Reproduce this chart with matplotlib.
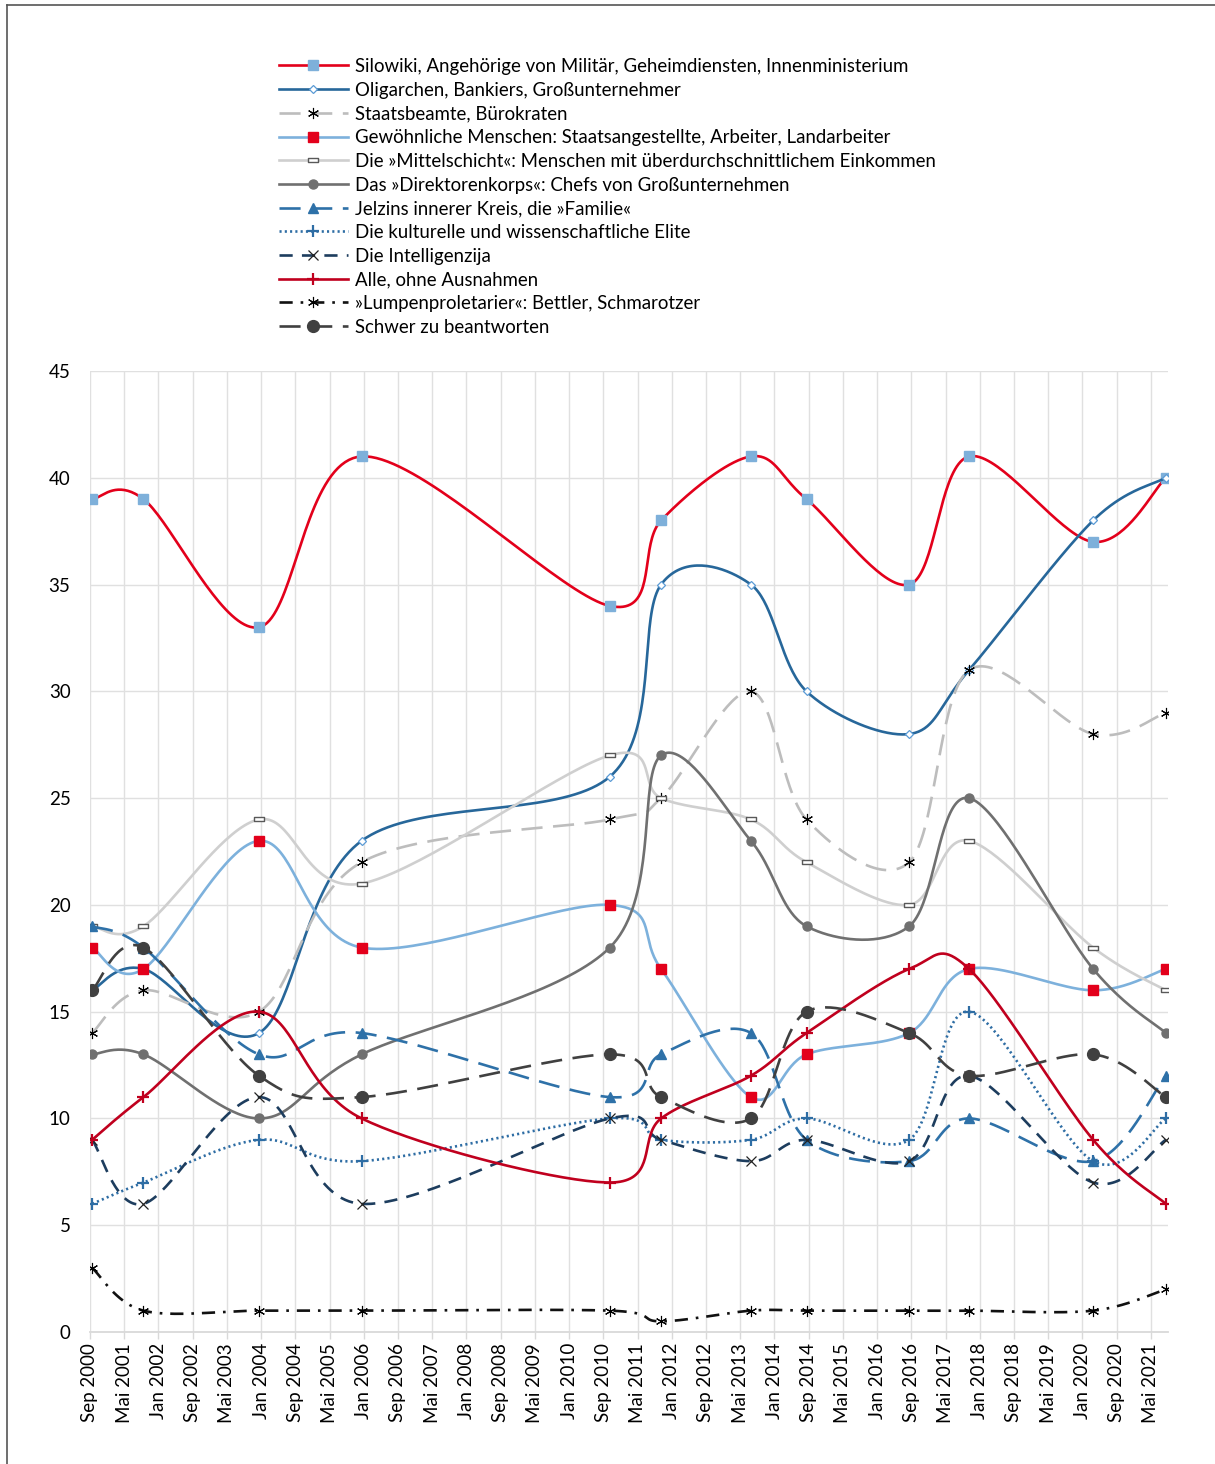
import numpy as np
import matplotlib
matplotlib.use("Agg")
import matplotlib.pyplot as plt
from matplotlib.lines import Line2D
from matplotlib.path import Path

plt.rcParams['font.family'] = ['Lato', 'DejaVu Sans']

# survey dates (year-month)
survey_dates = ["2000-09", "2001-09", "2003-12", "2005-12", "2010-10", "2011-10",
                "2013-07", "2014-08", "2016-08", "2017-10", "2020-03", "2021-08"]

silowiki = [39, 39, 33, 41, 34, 38, 41, 39, 35, 41, 37, 40]
oligarchen = [16, 17, 14, 23, 26, 35, 35, 30, 28, 31, 38, 40]
beamte = [14, 16, 15, 22, 24, 25, 30, 24, 22, 31, 28, 29]
gewoehnliche = [18, 17, 23, 18, 20, 17, 11, 13, 14, 17, 16, 17]
mittelschicht = [19, 19, 24, 21, 27, 25, 24, 22, 20, 23, 18, 16]
direktoren = [13, 13, 10, 13, 18, 27, 23, 19, 19, 25, 17, 14]
jelzin = [19, 18, 13, 14, 11, 13, 14, 9, 8, 10, 8, 12]
kultur = [6, 7, 9, 8, 10, 9, 9, 10, 9, 15, 8, 10]
intelligenz = [9, 6, 11, 6, 10, 9, 8, 9, 8, 12, 7, 9]
alle = [9, 11, 15, 10, 7, 10, 12, 14, 17, 17, 9, 6]
lumpen = [3, 1, 1, 1, 1, 0.5, 1, 1, 1, 1, 1, 2]
schwer = [16, 18, 12, 11, 13, 11, 10, 15, 14, 12, 13, 11]

labels = [
    "Silowiki, Angehörige von Militär, Geheimdiensten, Innenministerium",
    "Oligarchen, Bankiers, Großunternehmer",
    "Staatsbeamte, Bürokraten",
    "Gewöhnliche Menschen: Staatsangestellte, Arbeiter, Landarbeiter",
    "Die »Mittelschicht«: Menschen mit überdurchschnittlichem Einkommen",
    "Das »Direktorenkorps«: Chefs von Großunternehmen",
    "Jelzins innerer Kreis, die »Familie«",
    "Die kulturelle und wissenschaftliche Elite",
    "Die Intelligenzija",
    "Alle, ohne Ausnahmen",
    "»Lumpenproletarier«: Bettler, Schmarotzer",
    "Schwer zu beantworten",
]

month_names = {1: "Jan", 5: "Mai", 9: "Sep"}


def to_month(s):
    y, m = s.split("-")
    return (int(y) - 2000) * 12 + int(m) - 9


x = np.array([to_month(d) for d in survey_dates]) + 0.5

dash_rect = Path([(-1, -0.35), (1, -0.35), (1, 0.35), (-1, 0.35), (-1, -0.35)],
                 [Path.MOVETO, Path.LINETO, Path.LINETO, Path.LINETO, Path.CLOSEPOLY])
star = (6, 2, 0)

styles = [
    dict(color="#E3001B", ls="-", marker="s", mfc="#7EB0DA", mec="#7EB0DA", ms=6.5),
    dict(color="#27679A", ls="-", marker="D", mfc="white", mec="#5B9BD5", ms=4.5, mew=0.9),
    dict(color="#BDBDBD", ls=(0, (8, 4)), marker=star, mfc="black", mec="black", ms=8, mew=0.8),
    dict(color="#7DB1DC", ls="-", marker="s", mfc="#E3001B", mec="#E3001B", ms=6.5),
    dict(color="#CFCFCF", ls="-", marker=dash_rect, mfc="white", mec="#595959", ms=7, mew=1),
    dict(color="#707070", ls="-", marker="o", mfc="#707070", mec="#707070", ms=6.5),
    dict(color="#2E71A8", ls=(0, (8, 4)), marker="^", mfc="#2E71A8", mec="#2E71A8", ms=7),
    dict(color="#2E6DA4", ls=(0, (0.8, 1.2)), marker="+", mfc="#2E6DA4", mec="#2E6DA4", ms=8, mew=1.6),
    dict(color="#1D3D5E", ls=(0, (5, 3.5)), marker="x", mfc="#222222", mec="#222222", ms=7, mew=0.9),
    dict(color="#C0001E", ls="-", marker="+", mfc="#C0001E", mec="#C0001E", ms=8, mew=1.6),
    dict(color="#111111", ls=(0, (5, 3, 1, 3)), marker=star, mfc="black", mec="black", ms=8, mew=0.8),
    dict(color="#404040", ls=(0, (8, 4)), marker="o", mfc="#404040", mec="#404040", ms=8.5),
]

series = [silowiki, oligarchen, beamte, gewoehnliche, mittelschicht, direktoren,
          jelzin, kultur, intelligenz, alle, lumpen, schwer]


def smooth(xs, ys, n=40):
    # bezier smoothing like Excel's "smoothed line"
    P = np.column_stack([xs, ys]).astype(float)
    E = np.vstack([P[0], P, P[-1]])
    t = np.linspace(0, 1, n)[:, None]
    out = []
    for i in range(len(P) - 1):
        p0, p3 = P[i], P[i + 1]
        c1 = p0 + (E[i + 2] - E[i]) / 6
        c2 = p3 - (E[i + 3] - E[i + 1]) / 6
        seg = (1 - t) ** 3 * p0 + 3 * (1 - t) ** 2 * t * c1 + 3 * (1 - t) * t ** 2 * c2 + t ** 3 * p3
        out.append(seg if i == 0 else seg[1:])
    return np.vstack(out)


fig = plt.figure(figsize=(12.15, 14.64), dpi=100)
ax = fig.add_axes([90 / 1215, 1 - 1332 / 1464, (1168 - 90) / 1215, (1332 - 371) / 1464])

handles = []
for vals, st, lab in zip(series, styles, labels):
    curve = smooth(x, vals)
    ax.plot(curve[:, 0], curve[:, 1], color=st["color"], ls=st["ls"], lw=1.9)
    ax.plot(x, vals, ls="none", marker=st["marker"], mfc=st["mfc"], mec=st["mec"],
            ms=st["ms"], mew=st.get("mew", 1))
    handles.append(Line2D([], [], color=st["color"], ls=st["ls"], lw=1.9, marker=st["marker"],
                          mfc=st["mfc"], mec=st["mec"], ms=st["ms"], mew=st.get("mew", 1), label=lab))

# ticks every 8 months
tick_pos = np.arange(0, 249, 8)
tick_lab = []
for p in tick_pos:
    m = (9 + p - 1) % 12 + 1
    yr = 2000 + (9 + p - 1) // 12
    tick_lab.append(f"{month_names[m]} {yr}")

ax.set_xlim(0, 252)
ax.set_ylim(0, 45)
ax.set_xticks(tick_pos)
ax.set_xticklabels(tick_lab, rotation=90, fontsize=13.5)
ax.set_yticks(range(0, 46, 5))
ax.tick_params(axis="y", length=0, labelsize=13.5, pad=14)
ax.tick_params(axis="x", length=5, color="#D9D9D9", width=1, pad=3)
ax.grid(True, color="#E0E0E0", lw=1)
ax.set_axisbelow(True)
for s in ["top", "right", "left"]:
    ax.spines[s].set_visible(False)
ax.spines["bottom"].set_color("#D9D9D9")
ax.spines["bottom"].set_linewidth(1.3)

fig.legend(handles=handles, loc="upper left", bbox_to_anchor=(279 / 1215, 1 - 58 / 1464),
           frameon=False, fontsize=13.4, handlelength=3.7, handletextpad=0.4,
           labelspacing=0.36, borderpad=0, borderaxespad=0)

# outer frame
fig.add_artist(Line2D([7 / 1215, 7 / 1215], [0, 1 - 5 / 1464], color="#555555", lw=1.2))
fig.add_artist(Line2D([7 / 1215, 1], [1 - 5 / 1464, 1 - 5 / 1464], color="#555555", lw=1.2))

fig.savefig("out.png", dpi=100)
